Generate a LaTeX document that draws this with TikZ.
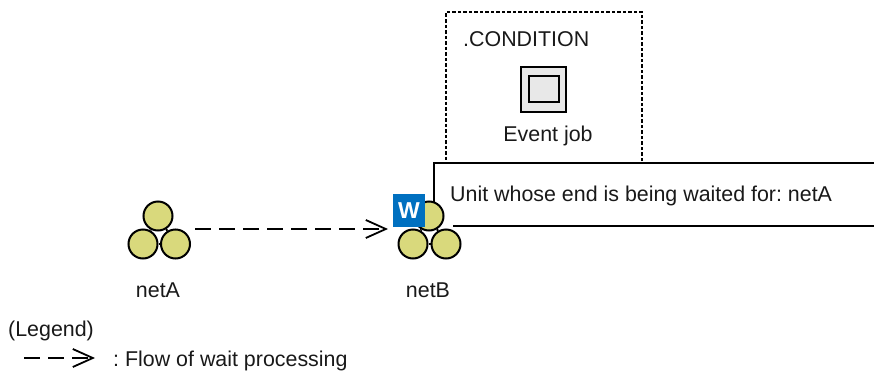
\documentclass[tikz,border=0pt]{standalone}
\usepackage{fontspec}
\setmainfont{Liberation Sans}
\usetikzlibrary{arrows.meta}
\definecolor{netfill}{HTML}{D9D97C}
\definecolor{jobfill}{HTML}{E8E8E8}
\definecolor{waitblue}{HTML}{0070C0}
\tikzset{
    label text/.style={font=\fontsize{21.4}{25}\selectfont\frenchspacing, inner sep=0pt, text=black!90},
    net circle/.style={circle, draw=black, fill=netfill, line width=2pt, minimum size=29pt, inner sep=0pt},
    net link/.style={black, line width=2pt},
    wait flow/.style={black, line width=1.8pt, dash pattern=on 16pt off 8pt, -{Straight Barb[length=20pt,width=18pt,line width=1.8pt]}},
}
\begin{document}
\begin{tikzpicture}[x=1pt, y=-1pt]
    \useasboundingbox (0,0) rectangle (874,372);

    % First, the dotted frame with the event job in it
    \node [draw=black, line width=1.7pt, dash pattern=on 3.5pt off 2pt, minimum width=196pt, minimum height=151pt, inner sep=0pt] (conditionBox) at (544,87.5) {};
    \node [label text, anchor=base west] (conditionLabel) at (463,46) {.CONDITION};
    \node [draw=black, fill=jobfill, line width=2pt, minimum width=45pt, minimum height=45pt, inner sep=0pt] (eventOuter) at (543.5,89) {};
    \node [draw=black, fill=jobfill, line width=2pt, minimum width=30pt, minimum height=26pt, inner sep=0pt] (eventInner) at (eventOuter.center) {};
    \node [label text, anchor=base] (eventLabel) at (548,141) {Event job};

    % The white balloon, open on the right
    \fill [white] (434,163) rectangle (874,226);
    \draw [black, line width=2pt] (434,204) -- (434,163) -- (874,163);
    \draw [black, line width=2pt] (453,226) -- (874,226);
    \node [label text, anchor=base west] (balloonLabel) at (450,201) {Unit whose end is being waited for: netA};

    % netA
    \node [net circle] (netAtop) at (158,216) {};
    \node [net circle] (netAleft) at (143,244) {};
    \node [net circle] (netAright) at (175.5,244) {};
    \draw [net link] (netAtop) -- (netAleft);
    \draw [net link] (netAtop) -- (netAright);
    \draw [net link] (netAleft) -- (netAright);
    \node [label text, anchor=base] (netAlabel) at (158,297) {netA};

    % netB
    \node [net circle] (netBtop) at (429,216) {};
    \node [net circle] (netBleft) at (413,244) {};
    \node [net circle] (netBright) at (446,244) {};
    \draw [net link] (netBtop) -- (netBleft);
    \draw [net link] (netBtop) -- (netBright);
    \draw [net link] (netBleft) -- (netBright);
    \node [label text, anchor=base] (netBlabel) at (428,297) {netB};

    % The wait mark on netB
    \node [fill=waitblue, text=white, font=\fontsize{23}{26}\selectfont\bfseries, minimum width=32pt, minimum height=33pt, inner sep=0pt] (waitMark) at (409,210.5) {W};

    % Wait flow between the two nets
    \coordinate (flowStart) at (195,229);
    \coordinate (flowEnd) at (388,229);
    \draw [wait flow] (flowStart) -- (flowEnd);

    % Legend
    \node [label text, anchor=base west] (legendTitle) at (8,336) {(Legend)};
    \coordinate (legendStart) at (24,358);
    \coordinate (legendEnd) at (95,358);
    \draw [wait flow] (legendStart) -- (legendEnd);
    \node [label text, anchor=base west] (legendLabel) at (113,366) {: Flow of wait processing};
\end{tikzpicture}
\end{document}
